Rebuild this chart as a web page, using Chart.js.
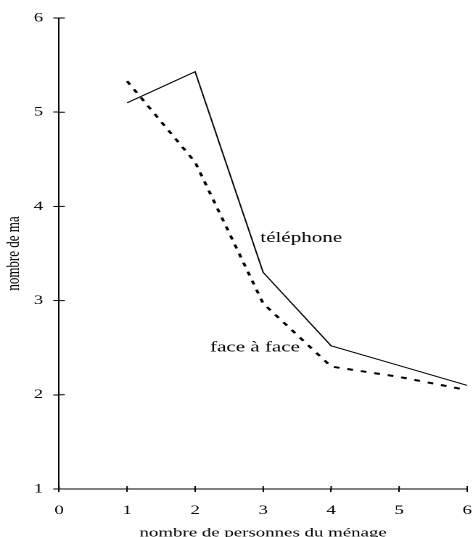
<!DOCTYPE html>
<html>
<head>
<meta charset="utf-8">
<script src="https://cdn.jsdelivr.net/npm/chart.js@4"></script>
<style>
  html, body { margin: 0; padding: 0; background: #fff; overflow: hidden; }
  /* the original figure has horizontally stretched text, so the chart is drawn narrower and stretched */
  #wrap { width: 326px; height: 541px; transform: scaleX(1.4509); transform-origin: 0 0; }
</style>
</head>
<body>
<div id="wrap"><canvas id="chart" width="326" height="541"></canvas></div>
<script>
const householdSizes = [1, 2, 3, 4, 5, 6];
const telephone = [5.10, 5.43, 3.30, 2.52, 2.31, 2.10];
const faceAFace = [5.33, 4.47, 2.97, 2.30, 2.19, 2.05];
const xTicks = [0, 1, 2, 3, 4, 5, 6];
const yTicks = [1, 2, 3, 4, 5, 6];
const seriesLabels = [
  { text: 'téléphone', x: 3.56, y: 3.66 },
  { text: 'face à face', x: 2.88, y: 2.50 }
];

Chart.defaults.font.family = "'Liberation Serif', 'Times New Roman', serif";
Chart.defaults.color = '#000';

// small ticks on the inner side of both axes
const innerTicks = {
  id: 'innerTicks',
  afterDraw(chart) {
    const { ctx, scales: { x, y } } = chart;
    ctx.save();
    ctx.strokeStyle = '#000';
    ctx.lineWidth = 1;
    ctx.beginPath();
    yTicks.forEach(v => {
      const py = y.getPixelForValue(v);
      ctx.moveTo(x.left, py);
      ctx.lineTo(x.left + 4, py);
    });
    xTicks.forEach(v => {
      const px = x.getPixelForValue(v);
      ctx.moveTo(px, y.bottom);
      ctx.lineTo(px, y.bottom - 3);
    });
    ctx.stroke();
    ctx.restore();
  }
};

const lineLabels = {
  id: 'lineLabels',
  afterDatasetsDraw(chart) {
    const { ctx, scales: { x, y } } = chart;
    ctx.save();
    ctx.font = "14.5px 'Liberation Serif', serif";
    ctx.fillStyle = '#000';
    ctx.textAlign = 'center';
    ctx.textBaseline = 'middle';
    seriesLabels.forEach(l => {
      ctx.fillText(l.text, x.getPixelForValue(l.x), y.getPixelForValue(l.y));
    });
    ctx.restore();
  }
};

new Chart(document.getElementById('chart'), {
  type: 'line',
  data: {
    datasets: [{
      label: 'téléphone',
      data: householdSizes.map((h, i) => ({ x: h, y: telephone[i] })),
      borderColor: '#000',
      borderWidth: 1,
      pointRadius: 0,
      tension: 0
    }, {
      label: 'face à face',
      data: householdSizes.map((h, i) => ({ x: h, y: faceAFace[i] })),
      borderColor: '#000',
      borderWidth: 2,
      borderDash: [4, 5.5],
      pointRadius: 0,
      tension: 0
    }]
  },
  options: {
    responsive: false,
    devicePixelRatio: 2,
    animation: false,
    layout: { padding: { top: 18, right: 4, left: 0, bottom: 0 } },
    plugins: {
      legend: { display: false },
      tooltip: { enabled: false }
    },
    scales: {
      x: {
        type: 'linear',
        min: 0,
        max: 6,
        afterBuildTicks: s => { s.ticks = xTicks.map(v => ({ value: v })); },
        afterFit: s => { s.height = 52; s.paddingLeft = 0; s.paddingRight = 0; },
        grid: { drawOnChartArea: false, color: '#000', tickLength: 3 },
        border: { color: '#000', width: 1 },
        ticks: { font: { size: 13 }, padding: 11, maxRotation: 0 },
        title: { display: true, text: 'nombre de personnes du ménage', font: { size: 13 }, padding: 0 }
      },
      y: {
        min: 1,
        max: 6,
        afterBuildTicks: s => { s.ticks = yTicks.map(v => ({ value: v })); },
        afterFit: s => { s.width = 40.7; s.paddingTop = 0; s.paddingBottom = 0; },
        grid: { drawOnChartArea: false, color: '#000', tickLength: 4 },
        border: { color: '#000', width: 1 },
        ticks: { font: { size: 13 }, padding: 7 },
        title: { display: true, text: 'nombre de ma', font: { size: 13 }, padding: { top: 2, bottom: 0 } }
      }
    }
  },
  plugins: [innerTicks, lineLabels]
});
</script>
</body>
</html>
